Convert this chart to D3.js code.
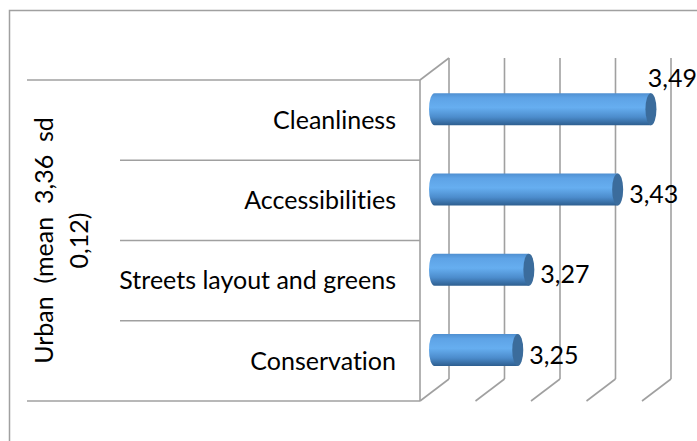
<!DOCTYPE html>
<html><head><meta charset="utf-8">
<script src="https://cdn.jsdelivr.net/npm/d3@7"></script>
<style>body{margin:0;background:#fff}svg{display:block}text{font-family:Lato,"Noto Sans",sans-serif;fill:#000;white-space:pre;font-variant-ligatures:none;font-feature-settings:"liga" 0,"clig" 0}</style>
</head><body><svg id="c" width="697" height="441"></svg>
<script>
const categories = ["Cleanliness", "Accessibilities", "Streets layout and greens", "Conservation"];
const values = [3.49, 3.43, 3.27, 3.25];
const valueLabels = ["3,49", "3,43", "3,27", "3,25"];
const ticks = [3.1, 3.2, 3.3, 3.4, 3.5];
const titleLines = ["Urban  (mean  3,36  sd", "0,12)"];

const W = 697, H = 441;
const svg = d3.select("#c");
const FS = 25;
const grey = "#a0a0a0";
const DX = 29, DY = -22;

const x = d3.scaleLinear().domain([3.1, 3.5]).range([420, 642]);
const y = d3.scaleBand().domain(categories).range([80, 401]);

// gradients
const defs = svg.append("defs");
const g = defs.append("linearGradient").attr("id", "body").attr("x1", 0).attr("y1", 0).attr("x2", 0).attr("y2", 1);
[[0, "#4f8fd0"], [0.15, "#5ea3e6"], [0.45, "#66aef0"], [0.75, "#4c8ccc"], [1, "#2e5f90"]].forEach(s =>
  g.append("stop").attr("offset", s[0]).attr("stop-color", s[1]));

// outer border
svg.append("path").attr("d", `M9.5,441 V10.5 H697`).attr("fill", "none").attr("stroke", grey).attr("stroke-width", 1.5);

const [y0, y1] = y.range();
// side wall
const wall = svg.append("g").attr("fill", "none").attr("stroke", grey).attr("stroke-width", 1.6);
wall.append("line").attr("x1", x(3.1)).attr("x2", x(3.1)).attr("y1", y0).attr("y2", y1);
wall.append("line").attr("x1", x(3.1)).attr("x2", x(3.1) + DX).attr("y1", y0).attr("y2", y0 + DY);
// back gridlines & floor lines
ticks.forEach(t => {
  wall.append("line").attr("x1", x(t) + DX).attr("x2", x(t) + DX).attr("y1", y0 + DY).attr("y2", y1 + DY);
  wall.append("line").attr("x1", x(t)).attr("x2", x(t) + DX).attr("y1", y1).attr("y2", y1 + DY);
});

// category separators
const bounds = categories.map(c => y(c)).concat([y1]);
bounds.forEach((b, i) => {
  const outer = i === 0 || i === bounds.length - 1;
  wall.append("line").attr("x1", outer ? 27 : 120).attr("x2", x(3.1)).attr("y1", b).attr("y2", b);
});

// category labels
svg.append("g").selectAll("text").data(categories).join("text")
  .attr("x", 396).attr("y", d => y(d) + y.bandwidth() / 2)
  .attr("dy", "0.35em").attr("text-anchor", "end").attr("font-size", FS).text(d => d);

// bars (cylinders) at mid depth
const bh = 32, rx = 5.5;
const bars = svg.append("g");
values.forEach((v, i) => {
  const cy = y(categories[i]) + y.bandwidth() / 2 + DY / 2;
  const xs = x(3.1) + DX / 2, xe = x(v) + DX / 2;
  const top = cy - bh / 2, bot = cy + bh / 2;
  bars.append("path")
    .attr("d", `M${xe},${top} H${xs} A${rx},${bh / 2} 0 0 0 ${xs},${bot} H${xe} Z`)
    .attr("fill", "url(#body)");
  bars.append("ellipse").attr("cx", xe).attr("cy", cy).attr("rx", rx).attr("ry", bh / 2)
    .attr("fill", "#3b6c9c");
  // value label
  const t = svg.append("text").attr("font-size", FS).text(valueLabels[i]);
  const tw = t.node().getComputedTextLength();
  let lx = xe + rx + 6, ly = cy + 5;
  if (lx + tw > W) { lx = W - tw; ly = top - 15; }
  t.attr("x", lx).attr("y", ly).attr("dy", "0.35em");
});

// axis title
const tt = svg.append("text").attr("transform", `translate(0,${(y0 + y1) / 2}) rotate(-90)`)
  .attr("text-anchor", "middle").attr("font-size", FS);
titleLines.forEach((l, i) => tt.append("tspan").attr("x", 0).attr("y", 53 + i * 35).text(l));
</script></body></html>
